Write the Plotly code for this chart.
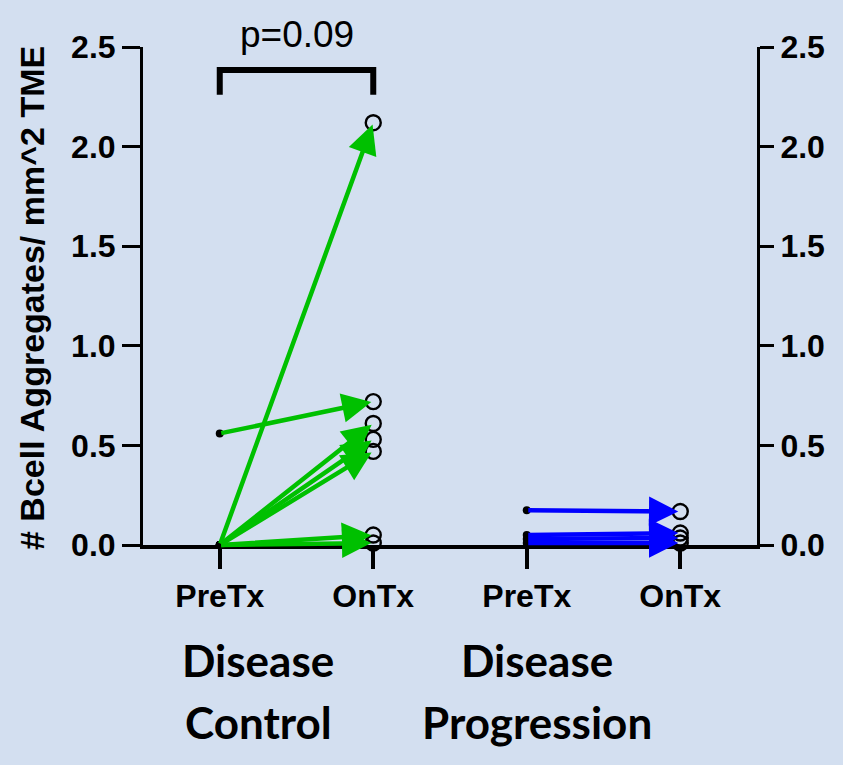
import plotly.graph_objects as go

# ---- data ----
categories = ["PreTx", "OnTx", "PreTx", "OnTx"]
cat_pos = [0, 1, 2, 3]
group_labels = ["Disease", "Control", "N=7"], ["Disease", "Progression", "N=4"]

dc_pre = [0.56, 0.0, 0.0, 0.0, 0.0, 0.0, 0.0]
dc_on = [0.72, 2.12, 0.61, 0.53, 0.47, 0.05, 0.01]

dp_pre = [0.175, 0.05, 0.03, 0.01]
dp_on = [0.168, 0.06, 0.035, 0.01]

p_text = "p=0.09"
y_title = "# Bcell Aggregates/ mm^2 TME"
y_ticks = [0.0, 0.5, 1.0, 1.5, 2.0, 2.5]

BG = "rgb(211,223,240)"
GREEN = "rgb(0,192,0)"
BLUE = "rgb(0,0,255)"

fig = go.Figure()

annotations = []
def add_arrows(pre, on, x0, x1, color):
    for a, b in zip(pre, on):
        annotations.append(dict(
            x=x1, y=b, ax=x0, ay=a, xref="x", yref="y", axref="x", ayref="y",
            showarrow=True, arrowhead=2, arrowsize=1.3, arrowwidth=4.5,
            arrowcolor=color, standoff=2, startstandoff=0, text=""))

add_arrows(dc_pre, dc_on, 0, 1, GREEN)
add_arrows(dp_pre, dp_on, 2, 3, BLUE)

open_marker = dict(color="rgba(0,0,0,0)", size=15, symbol="circle",
                   line=dict(color="black", width=2.4))
fill_marker = dict(color="black", size=8, symbol="circle")

fig.add_trace(go.Scatter(x=[0] * len(dc_pre), y=dc_pre, mode="markers",
                         marker=fill_marker, cliponaxis=False, showlegend=False))
fig.add_trace(go.Scatter(x=[1] * len(dc_on), y=dc_on, mode="markers",
                         marker=open_marker, cliponaxis=False, showlegend=False))
fig.add_trace(go.Scatter(x=[2] * len(dp_pre), y=dp_pre, mode="markers",
                         marker=fill_marker, cliponaxis=False, showlegend=False))
fig.add_trace(go.Scatter(x=[3] * len(dp_on), y=dp_on, mode="markers",
                         marker=open_marker, cliponaxis=False, showlegend=False))
# invisible trace for right axis
fig.add_trace(go.Scatter(x=[0], y=[0], yaxis="y2", mode="markers",
                         marker=dict(opacity=0), showlegend=False, hoverinfo="skip"))

# significance bracket
fig.add_shape(type="path", path="M 0,2.26 L 0,2.385 L 1,2.385 L 1,2.26",
              xref="x", yref="y", line=dict(color="black", width=6))
annotations.append(dict(x=0.5, y=(545 - 35) / 498, xref="x", yref="paper", text=p_text,
                        showarrow=False, yanchor="middle",
                        font=dict(family="Liberation Sans, Arial", size=37, color="black")))

# y title
annotations.append(dict(x=(32 - 143) / 614, y=(545 - 298) / 498, xref="paper", yref="paper",
                        xanchor="center", yanchor="middle",
                        text=y_title, textangle=-90, showarrow=False,
                        font=dict(family="Liberation Sans, Arial", size=34, color="black",
                                  weight="bold")))

# group labels
gx = [0.25, 2.07]
line_py = [660, 722, 784]
for gi, labels in enumerate(group_labels):
    for li, t in enumerate(labels):
        annotations.append(dict(x=gx[gi], y=(545 - line_py[li]) / 498, xref="x", yref="paper",
                                text=t, showarrow=False, yanchor="middle",
                                font=dict(family="Lato, Open Sans", size=44, color="black",
                                          weight="bold")))

tickfont = dict(family="Liberation Sans, Arial", size=32, color="black", weight="bold")

fig.update_layout(
    width=843, height=765,
    margin=dict(l=143, r=86, t=47, b=220),
    paper_bgcolor=BG, plot_bgcolor=BG,
    annotations=annotations,
    xaxis=dict(range=[-0.5, 3.5], tickvals=cat_pos, ticktext=categories,
               showline=True, linecolor="black", linewidth=3.5,
               ticks="outside", ticklen=20, tickwidth=3.5, tickcolor="black",
               showgrid=False, zeroline=False, tickfont=tickfont),
    yaxis=dict(range=[0, 2.5], tickvals=y_ticks, ticktext=["%.1f" % v for v in y_ticks],
               showline=True, linecolor="black", linewidth=3, ticks="outside",
               ticklen=18, tickwidth=3, tickcolor="black", showgrid=False,
               zeroline=False, tickfont=tickfont),
    yaxis2=dict(range=[0, 2.5], overlaying="y", side="right", tickvals=y_ticks,
                ticktext=["%.1f" % v for v in y_ticks],
                showline=True, linecolor="black", linewidth=3, ticks="outside",
                ticklen=14, tickwidth=3, tickcolor="black", showgrid=False,
                zeroline=False, tickfont=tickfont),
)

fig.write_html("out.html", config={"displayModeBar": False},
               post_script="document.body.style.margin='0';")
